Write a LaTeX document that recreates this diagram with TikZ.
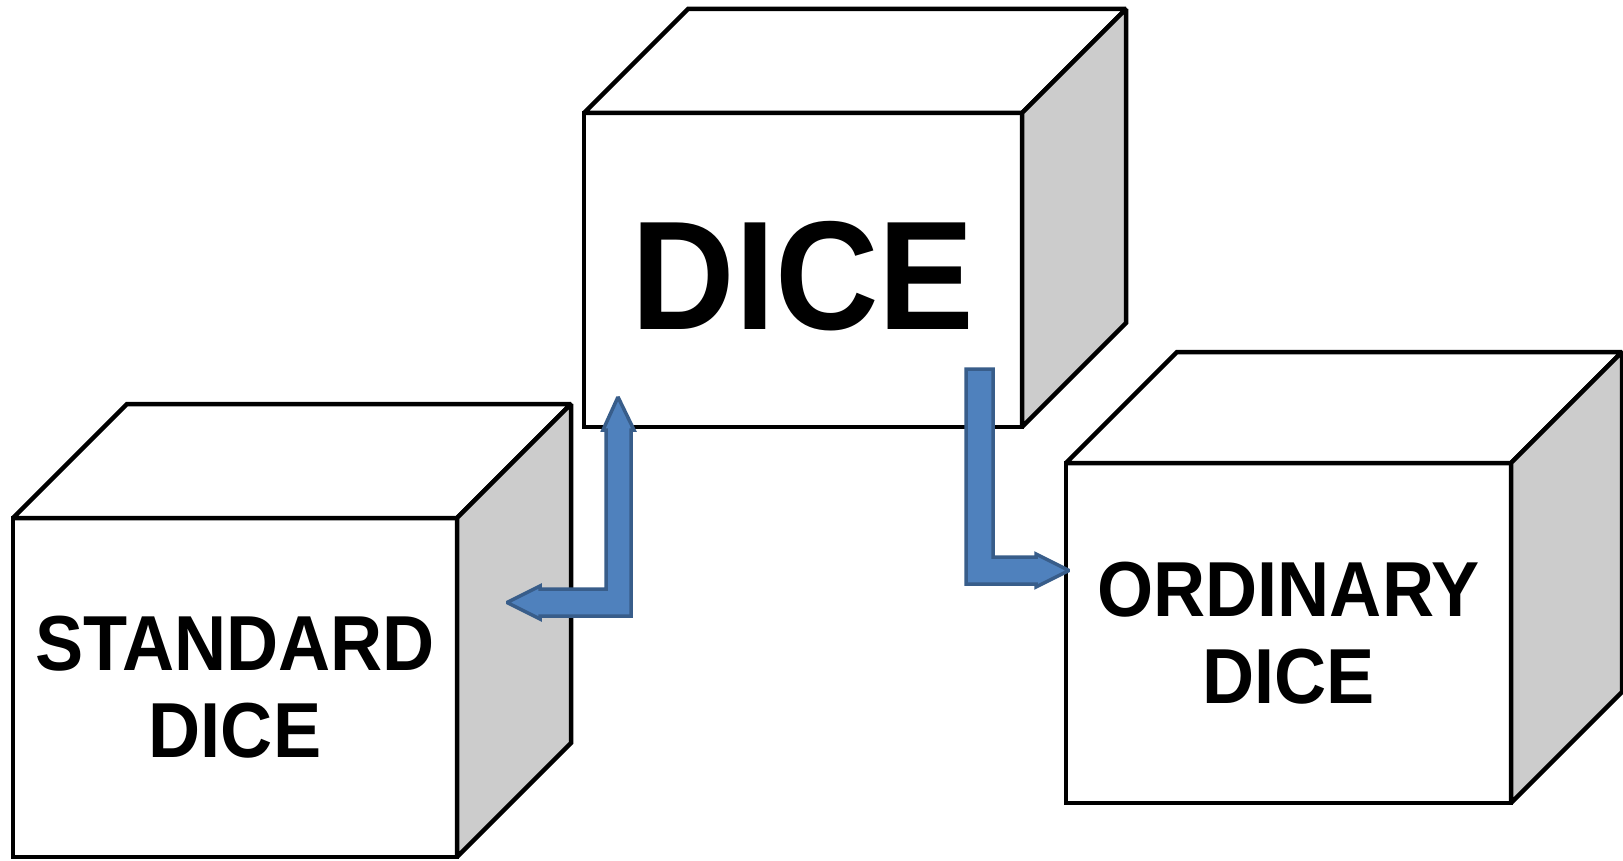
\documentclass[tikz,border=0pt]{standalone}
\usepackage{fontspec}
\setmainfont{Liberation Sans}
\newfontfamily\boxfont{Liberation Sans}[FakeStretch=0.925]
\definecolor{sidegray}{HTML}{CCCCCC}
\definecolor{arrowblue}{HTML}{4F81BD}
\definecolor{arrowedge}{HTML}{385D8A}
% box with top and side: [text style]{name}{x}{y}{width}{height}{depth}{text}
\newcommand{\cubebox}[8][]{%
  \node[front,#1,minimum width=#5pt,minimum height=#6pt] (#2) at (#3,#4) {#8};
  \draw[topface] (#2.north west) -- ++(#7,-#7) -- ++(#5,0) -- (#2.north east) -- cycle;
  \draw[sideface] (#2.north east) -- ++(#7,-#7) -- ++(0,#6) -- (#2.south east) -- cycle;
}

\begin{document}
\begin{tikzpicture}[x=1pt,y=-1pt,line width=4.5pt,miter limit=2]
	\tikzset{front/.style={draw,fill=white,anchor=north west,inner sep=0pt,outer sep=0pt,align=center}}
	\tikzset{topface/.style={draw,fill=white}}
	\tikzset{sideface/.style={draw,fill=sidegray}}
	\tikzset{bigtext/.style={font=\boxfont\bfseries\fontsize{155}{180}\selectfont}}
	\tikzset{smalltext/.style={font=\boxfont\bfseries\fontsize{78}{87}\selectfont}}
	\tikzset{blockarrow/.style={draw=arrowedge,fill=arrowblue,line width=3.5pt,line join=miter}}
	\useasboundingbox (0,0) rectangle (1623,861);
	\cubebox[bigtext]{dice}{584}{113}{438}{314}{104}{\raisebox{-5pt}[\height][0pt]{DICE}}
	\cubebox[smalltext]{std}{13}{518}{444}{339}{114}{STANDARD\\DICE}
	\cubebox[smalltext]{ord}{1066}{463}{445}{340}{111}{ORDINARY\\DICE}
	\coordinate (upTip) at (618,397);
	\coordinate (stdTip) at (507,602.5);
	\coordinate (downTop) at (966,369);
	\coordinate (ordTip) at (1069,570.5);
	\draw[blockarrow] (upTip) -- (634,430) -- (631,430) -- (631,616) -- (540,616) -- (540,619) -- (stdTip) -- (540,586) -- (540,589) -- (606,589) -- (606,430) -- (603,430) -- cycle;
	\draw[blockarrow] (downTop) -- (993,369) -- (993,557) -- (1036,557) -- (1036,554) -- (ordTip) -- (1036,587) -- (1036,584) -- (966,584) -- cycle;
\end{tikzpicture}
\end{document}
